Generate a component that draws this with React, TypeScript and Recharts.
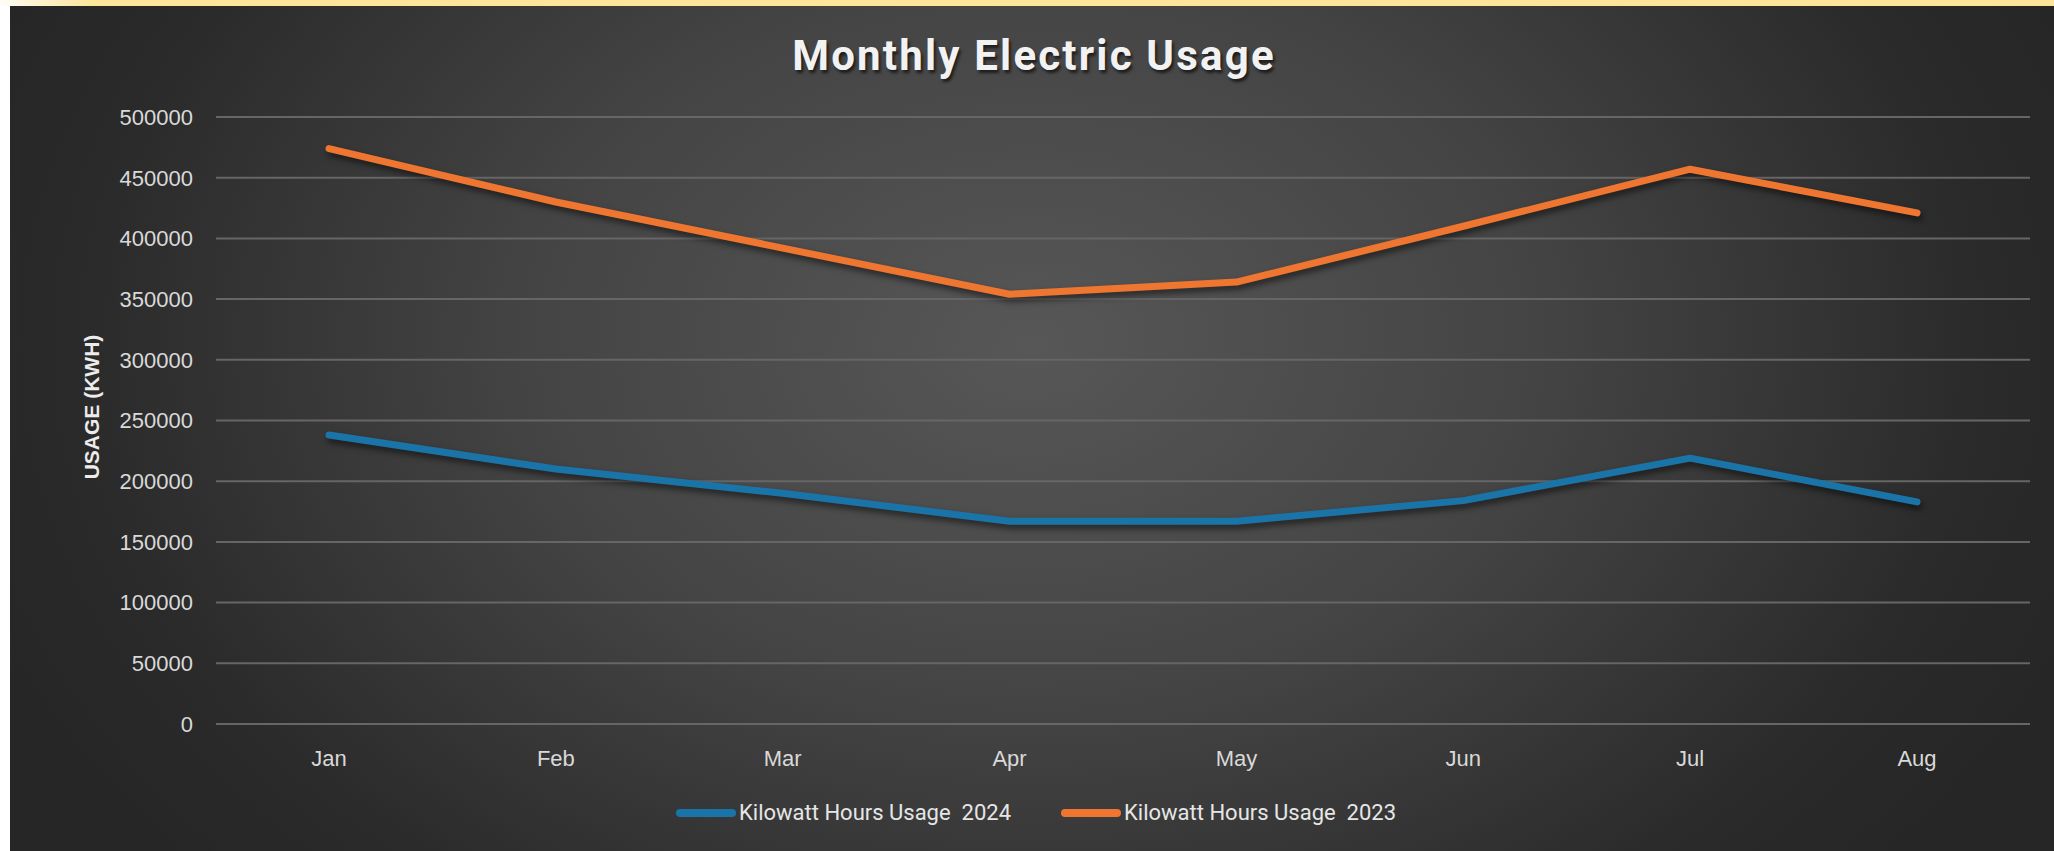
import { LineChart, Line, XAxis, YAxis, CartesianGrid } from "recharts";

// monthly kWh
const months = ["Jan", "Feb", "Mar", "Apr", "May", "Jun", "Jul", "Aug"];
const usage2024 = [238000, 210000, 190000, 167000, 167000, 184000, 219000, 183000];
const usage2023 = [474000, 430000, 392000, 354000, 364000, 410000, 457000, 421000];
const yTicks = [0, 50000, 100000, 150000, 200000, 250000, 300000, 350000, 400000, 450000, 500000];

const series = [
  { key: "kwh2024", name: "Kilowatt Hours Usage  2024", color: "#1b74a7" },
  { key: "kwh2023", name: "Kilowatt Hours Usage  2023", color: "#ef7630" },
];

const data = months.map((month, i) => ({
  month,
  kwh2024: usage2024[i],
  kwh2023: usage2023[i],
}));

const W = 2054;
const H = 851;

export default function App() {
  const tickStyle = { fill: "#d9d9d9", fontSize: 22, fontFamily: "'Liberation Sans', Arial, sans-serif" };

  return (
    <div
      style={{
        position: "absolute",
        left: 0,
        top: 0,
        width: W,
        height: H,
        overflow: "hidden",
        background: "#ffffff",
      }}
    >
      <style>{`.recharts-line-curve { filter: drop-shadow(2px 4px 3px rgba(0,0,0,0.55)); }`}</style>
      {/* yellow band on top */}
      <div
        style={{
          position: "absolute",
          left: 0,
          top: 0,
          width: W,
          height: 6,
          background: "linear-gradient(90deg, #fffdf6 0px, #fde59c 90px, #fde49a 100%)",
        }}
      />
      {/* dark chart area */}
      <div
        style={{
          position: "absolute",
          left: 10,
          top: 6,
          width: W - 10,
          height: H - 6,
          background:
            "radial-gradient(ellipse 55% 95% at 50% 40%, #575757 0%, #444444 45%, #2a2a2a 85%, #262626 100%)",
        }}
      />

      <div
        style={{
          position: "absolute",
          left: 0,
          top: 35,
          width: 2068,
          textAlign: "center",
          color: "#f2f2f2",
          fontFamily: "Roboto, sans-serif",
          fontWeight: 700,
          fontSize: 42,
          lineHeight: "42px",
          letterSpacing: 2.2,
          textShadow: "2px 3px 3px rgba(0,0,0,0.6)",
        }}
      >
        Monthly Electric Usage
      </div>

      <div
        style={{
          position: "absolute",
          left: 92,
          top: 407,
          transform: "translate(-50%, -50%) rotate(-90deg)",
          whiteSpace: "nowrap",
          color: "#ececec",
          fontFamily: "'Liberation Sans', Arial, sans-serif",
          fontWeight: 700,
          fontSize: 21,
        }}
      >
        USAGE (KWH)
      </div>

      <div style={{ position: "absolute", left: 0, top: 0 }}>
        <LineChart width={W} height={H} data={data} margin={{ top: 117, right: 24, bottom: 97, left: 136 }}>
          <CartesianGrid vertical={false} stroke="#666666" strokeWidth={2} />
          <XAxis
            dataKey="month"
            height={30}
            axisLine={false}
            tickLine={false}
            tickSize={0}
            tickMargin={26}
            padding={{ left: 113, right: 113 }}
            tick={tickStyle}
          />
          <YAxis
            width={80}
            domain={[0, 500000]}
            ticks={yTicks}
            axisLine={false}
            tickLine={false}
            tickSize={0}
            tickMargin={23}
            tick={tickStyle}
          />
          {series.map((s) => (
            <Line
              key={s.key}
              type="linear"
              dataKey={s.key}
              name={s.name}
              stroke={s.color}
              strokeWidth={7}
              strokeLinecap="round"
              strokeLinejoin="round"
              dot={false}
              activeDot={false}
              isAnimationActive={false}
            />
          ))}
        </LineChart>
      </div>

      {/* legend */}
      <div
        style={{
          position: "absolute",
          left: 676,
          top: 802,
          display: "flex",
          alignItems: "center",
          fontFamily: "Roboto, sans-serif",
          fontSize: 22,
          lineHeight: "22px",
          color: "#e6e6e6",
        }}
      >
        {series.map((s, i) => (
          <div key={s.key} style={{ display: "flex", alignItems: "center", marginLeft: i === 0 ? 0 : 50 }}>
            <div style={{ width: 60, height: 8, borderRadius: 4, background: s.color, marginRight: 3 }} />
            <span style={{ whiteSpace: "pre" }}>{s.name}</span>
          </div>
        ))}
      </div>
    </div>
  );
}
